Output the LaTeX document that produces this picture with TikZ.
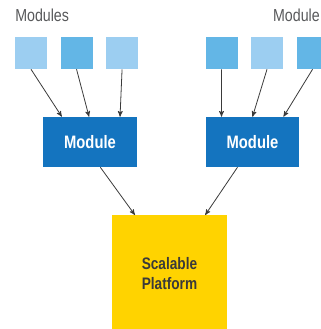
\documentclass[tikz,border=0pt]{standalone}
\usepackage{fontspec}
\setmainfont{Liberation Sans}[FakeStretch=0.82]
\usetikzlibrary{arrows, positioning, calc}
\definecolor{lightmod}{HTML}{9CCEF1}
\definecolor{midmod}{HTML}{63B6E6}
\definecolor{modblue}{HTML}{1474BF}
\definecolor{platyellow}{HTML}{FFD300}
\definecolor{labelgray}{HTML}{58595B}
\definecolor{linegray}{HTML}{3A3A3A}
\tikzset{
    %Define standard arrow tip
    >=stealth',
    %Small module squares
    cell/.style={
           rectangle,
           inner sep=0pt,
           minimum size=24pt},
    light/.style={cell, fill=lightmod},
    mid/.style={cell, fill=midmod},
    %Blue module boxes
    modbox/.style={
           rectangle,
           fill=modblue,
           text=white,
           minimum width=70pt,
           minimum height=37.5pt,
           font=\fontsize{13.5}{16}\selectfont\bfseries},
    %Yellow platform
    platform/.style={
           rectangle,
           fill=platyellow,
           text=linegray,
           minimum width=86pt,
           minimum height=87pt,
           align=center,
           font=\fontsize{12.5}{15}\selectfont\bfseries},
    % group titles
    title/.style={
           text=labelgray,
           inner sep=0pt,
           font=\fontsize{13}{15}\selectfont},
    % Define arrow style
    feed/.style={
           ->,
           draw=linegray,
           line width=0.6pt}
}

\begin{document}
\begin{tikzpicture}[x=0.75pt, y=-0.75pt, node distance=9.75pt]
	\clip (0,0) rectangle (321,329);
	%
	% titles
	%
	\node[title, anchor=base west] (ltitle) at (15,21) {Modules};
	\node[title, anchor=base east] (rtitle) at (320,21) {Module};
	%
	% squares
	%
	\node[light] (sq1) at (31,53) {};
	\node[mid, right = of sq1] (sq2) {};
	\node[light, right = of sq2] (sq3) {};
	\node[mid] (sq4) at (221.5,53) {};
	\node[light, right = of sq4] (sq5) {};
	\node[mid, right = of sq5] (sq6) {};
	%
	% modules and platform
	%
	\node[modbox] (modl) at (90,142) {Module};
	\node[modbox] (modr) at (252.5,142) {Module};
	\node[platform, anchor=north] (plat) at (169.5,215) {Scalable\\Platform};
	%
	% links
	%
	\draw[feed] (sq1.south) -- ($(modl.north west)!0.2!(modl.north east)$);
	\draw[feed] (sq2.south) -- ($(modl.north west)!0.49!(modl.north east)$);
	\draw[feed] (sq3.south) -- ($(modl.north west)!0.82!(modl.north east)$);
	\draw[feed] (sq4.south) -- ($(modr.north west)!0.17!(modr.north east)$);
	\draw[feed] (sq5.south) -- ($(modr.north west)!0.5!(modr.north east)$);
	\draw[feed] (sq6.south) -- ($(modr.north west)!0.83!(modr.north east)$);
	\draw[feed] ($(modl.south west)!0.61!(modl.south east)$) -- ($(plat.north west)!0.2!(plat.north east)$);
	\draw[feed] ($(modr.south west)!0.34!(modr.south east)$) -- ($(plat.north west)!0.81!(plat.north east)$);
\end{tikzpicture}
\end{document}
